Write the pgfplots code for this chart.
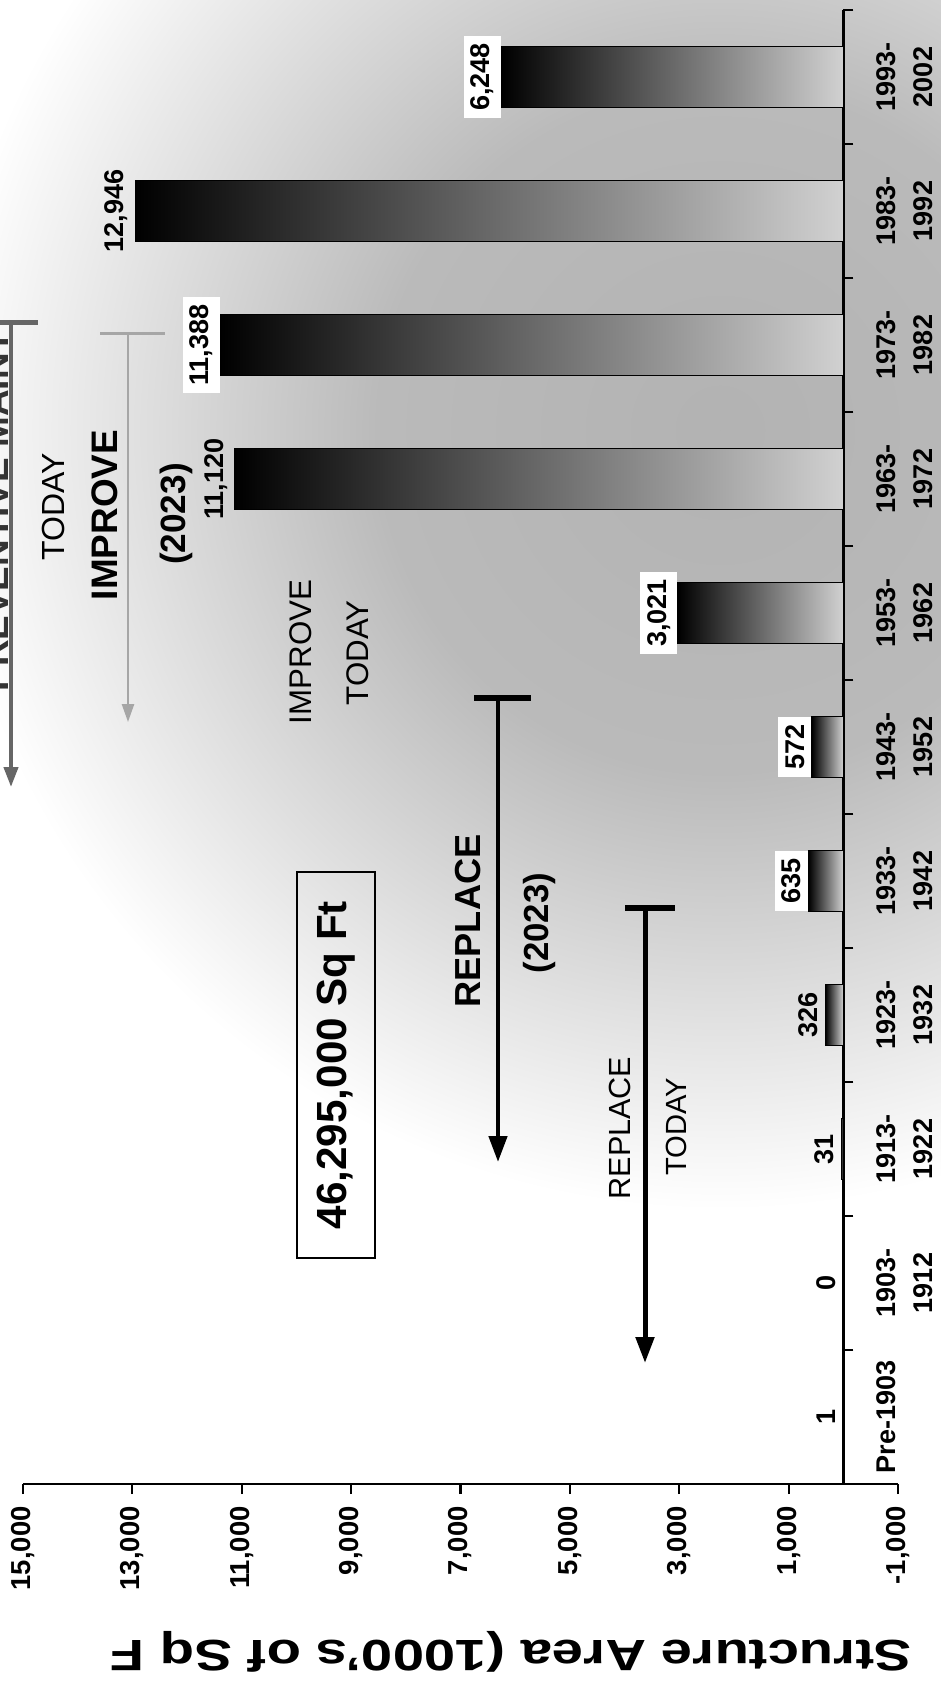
\documentclass[border=0pt]{standalone}
\usepackage{fontspec}
\setmainfont{Liberation Sans}
\usepackage{pgfplots}
\usepackage{pgfplotstable}
\pgfplotsset{compat=1.18}
\usetikzlibrary{arrows.meta}
\newcommand{\fs}[1]{\fontsize{#1}{#1}\selectfont}
\pgfdeclareradialshading{bgshade}{\pgfpoint{0bp}{0bp}}{color(0bp)=(black!30); color(11bp)=(black!27); color(25bp)=(white); color(50bp)=(white)}

\pgfplotstableread{
y v box
0 1 0
1 0 0
2 31 0
3 326 0
4 635 1
5 572 1
6 3021 1
7 11120 0
8 11388 1
9 12946 0
10 6248 1
}\datatable

\begin{document}
\begin{tikzpicture}
\begin{scope}
\clip (0,0) rectangle (94.1mm,-168.2mm);
\shade[shading=bgshade] (-6mm,35mm) rectangle (150mm,-121mm);
\begin{axis}[
  at={(2.3mm,-148.4mm)}, anchor=south west,
  scale only axis, width=87.5mm, height=147.4mm,
  x dir=reverse,
  xmin=-1000, xmax=15000, ymin=-0.5, ymax=10.5,
  axis x line=bottom, axis y line=middle,
  every outer x axis line/.append style={-, line width=0.6pt},
  every inner y axis line/.append style={-, line width=0.7pt},
  axis line style={-},
  tick align=outside,
  major tick length=1mm,
  tick style={black, line width=0.6pt},
  scaled x ticks=false,
  xtick={-1000,1000,3000,5000,7000,9000,11000,13000,15000},
  xticklabel style={rotate=90, anchor=east, font=\bfseries\fs{7.8},
     /pgf/number format/1000 sep={,}, /pgf/number format/assume math mode=true},
  ytick={-0.5,0.5,...,10.5},
  yticklabels={},
  extra y ticks={0,1,2,3,4,5,6,7,8,9,10},
  extra y tick labels={Pre-1903,{1903-\\1912},{1913-\\1922},{1923-\\1932},{1933-\\1942},{1943-\\1952},{1953-\\1962},{1963-\\1972},{1973-\\1982},{1983-\\1992},{1993-\\2002}},
  extra y tick style={major tick length=0pt,
     yticklabel style={xshift=3.3mm, rotate=90, anchor=north, align=center, inner sep=0pt,
       font=\bfseries\fontsize{7.7}{10.5}\selectfont}},
  clip=false,
]
\pgfplotsinvokeforeach{0,...,10}{
\addplot[xbar, bar shift=0pt, bar width=6.1mm, draw=black, line width=0.4pt,
  left color=black, middle color=black!50, right color=black!18,
  restrict expr to domain={\coordindex}{#1:#1}]
  table[x=v, y=y] {\datatable};
}
\addplot[only marks, mark=none, point meta=x,
  visualization depends on={\thisrow{box} \as \boxop},
  nodes near coords={\pgfmathprintnumber[1000 sep={,}, assume math mode=true]{\pgfplotspointmeta}},
  nodes near coords align=vertical,
  every node near coord/.append style={rotate=90, font=\bfseries\fs{7.7}, fill=white, fill opacity=\boxop, text opacity=1, inner sep=2pt, text=black}]
  table[x=v, y=y] {\datatable};
\end{axis}

\begin{scope}[x=0.1mm, y=-0.1mm]
% axis label
\node[rotate=180, inner sep=0, font=\bfseries] at (511,1652) {\scalebox{1}[0.78]{\fs{16}Structure Area (1000's of Sq F}};
% total box
\node[draw=black, line width=0.5pt, minimum width=38.6mm, minimum height=7.8mm, rotate=90, font=\bfseries\fs{12}, inner sep=0] at (336,1065) {46,295,000 Sq Ft};
% REPLACE (2023)
\draw[line width=0.45mm, -{Triangle[width=1.8mm,length=2.6mm]}] (498,698) -- (498,1162);
\draw[line width=0.6mm] (474,698) -- (531,698);
\node[rotate=90, font=\bfseries\fs{10.3}, inner sep=0] at (468,921) {REPLACE};
\node[rotate=90, font=\bfseries\fs{9.9}, inner sep=0] at (539,923) {(2023)};
% REPLACE TODAY
\draw[line width=0.5mm, -{Triangle[width=1.8mm,length=2.6mm]}] (645,908) -- (645,1363);
\draw[line width=0.6mm] (625,908) -- (675,908);
\node[rotate=90, font=\fs{8.7}, inner sep=0] at (620,1128) {REPLACE};
\node[rotate=90, font=\fs{8.3}, inner sep=0] at (676,1127) {TODAY};
% top cut arrow
\draw[black!60, line width=0.4mm, -{Triangle[width=1.4mm,length=2mm]}] (11,322) -- (11,787);
\draw[black!60, line width=0.5mm] (0,322) -- (38,322);
\node[rotate=90, anchor=base east, font=\bfseries\fs{10.5}, inner sep=0, text=black!80] at (8,330) {PREVENTIVE MAINT};
\node[rotate=90, font=\fs{9.1}, inner sep=0] at (53,507) {TODAY};
% IMPROVE (2023)
\draw[black!35, line width=0.25mm, -{Triangle[width=1.2mm,length=1.8mm]}] (128,333) -- (128,722);
\draw[black!35, line width=0.3mm] (100,333) -- (165,333);
\node[rotate=90, font=\bfseries\fs{10.5}, inner sep=0] at (105,515) {IMPROVE};
\node[rotate=90, font=\bfseries\fs{10}, inner sep=0] at (176,514) {(2023)};
% IMPROVE TODAY
\node[rotate=90, font=\fs{8.9}, inner sep=0] at (301,652) {IMPROVE};
\node[rotate=90, font=\fs{8.9}, inner sep=0] at (358,653) {TODAY};
\end{scope}
\end{scope}
\pgfresetboundingbox
\path[use as bounding box] (0,0) rectangle (94.1mm,-168.2mm);
\end{tikzpicture}
\end{document}
